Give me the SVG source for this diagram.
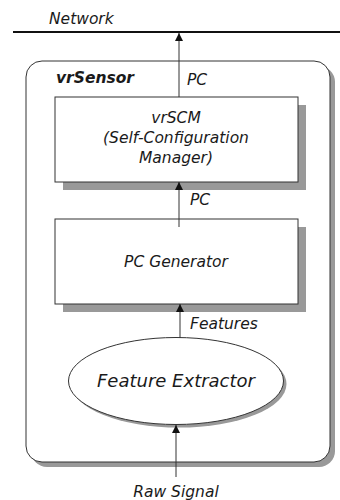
<svg xmlns="http://www.w3.org/2000/svg" width="340" height="500" viewBox="0 0 340 500">
  <style>
    text { font-family: "DejaVu Sans", Verdana, sans-serif; font-style: italic; fill: #1a1a1a; }
    .lbl { font-size: 15.5px; }
    .big { font-size: 18px; }
    .title { font-size: 15.5px; font-weight: bold; }
    .box { fill: #ffffff; stroke: #333333; stroke-width: 1; }
    .shadow { fill: #999999; stroke: none; }
    .edge { stroke: #333333; stroke-width: 1; fill: none; marker-end: url(#arrow); }
  </style>
  <defs>
    <marker id="arrow" viewBox="0 0 8 12" refX="8" refY="6" markerWidth="8" markerHeight="12" orient="auto" markerUnits="userSpaceOnUse">
      <path d="M0,2 L8,6 L0,10 Z" fill="#111111"/>
    </marker>
  </defs>
  <rect width="340" height="500" fill="#ffffff"/>

  <!-- network bus -->
  <g id="network">
    <line x1="13" y1="32" x2="340" y2="32" stroke="#111111" stroke-width="2"/>
    <text class="lbl" x="49" y="24">Network</text>
  </g>

  <!-- sensor container -->
  <g id="vrSensor">
    <rect class="shadow" x="31" y="66" width="304" height="401" rx="16"/>
    <rect class="box" x="26" y="61" width="304" height="401" rx="16"/>
    <text class="title" x="56" y="83">vrSensor</text>
  </g>

  <g id="vrSCM">
    <rect class="shadow" x="63" y="105" width="243" height="85"/>
    <rect class="box" x="55" y="97" width="243" height="85"/>
    <text class="lbl" x="176" y="123" text-anchor="middle">vrSCM</text>
    <text class="lbl" x="176" y="143" text-anchor="middle">(Self-Configuration</text>
    <text class="lbl" x="176" y="163" text-anchor="middle">Manager)</text>
  </g>

  <g id="pcGenerator">
    <rect class="shadow" x="63" y="227" width="243" height="85"/>
    <rect class="box" x="55" y="219" width="243" height="85"/>
    <text class="lbl" x="176" y="267" text-anchor="middle">PC Generator</text>
  </g>

  <g id="featureExtractor">
    <ellipse class="shadow" cx="179" cy="384" rx="107.5" ry="43.5"/>
    <ellipse class="box" cx="176" cy="381" rx="107.5" ry="43.5"/>
    <text class="big" x="176" y="387" text-anchor="middle">Feature Extractor</text>
  </g>

  <!-- connectors -->
  <g id="connectors">
    <line class="edge" x1="179" y1="97" x2="179" y2="33"/>
    <line class="edge" x1="179" y1="227" x2="179" y2="182"/>
    <line class="edge" x1="180" y1="338" x2="180" y2="304"/>
    <line class="edge" x1="176" y1="477" x2="176" y2="425"/>
  </g>

  <!-- connector labels -->
  <g id="labels">
    <text class="lbl" x="187" y="85">PC</text>
    <text class="lbl" x="190" y="205">PC</text>
    <text class="lbl" x="190" y="329">Features</text>
    <text class="lbl" x="176" y="497" text-anchor="middle">Raw Signal</text>
  </g>
</svg>
